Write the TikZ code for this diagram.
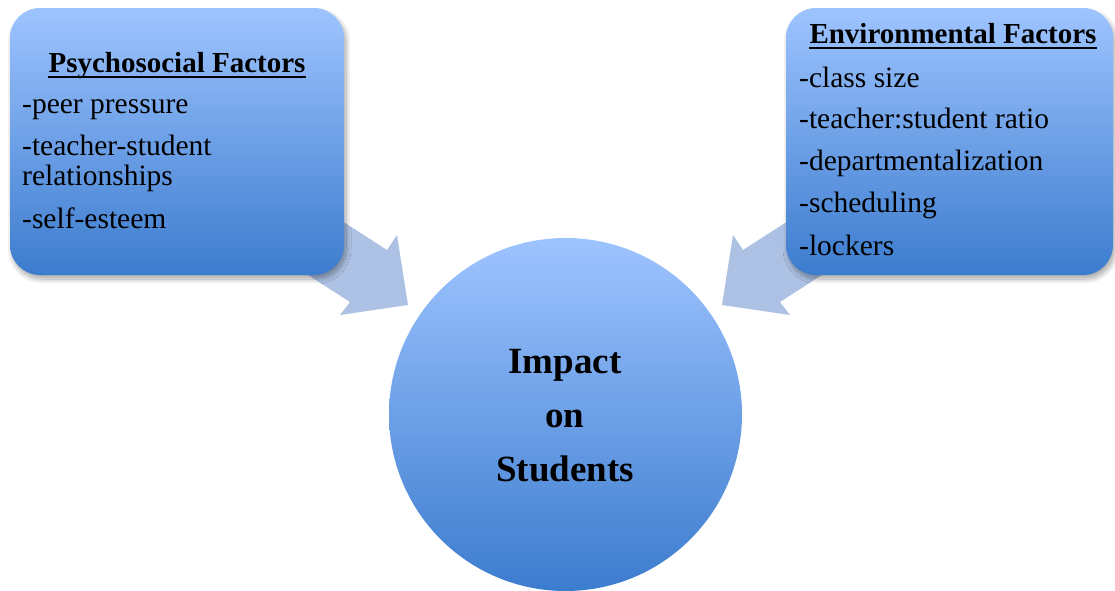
\documentclass[tikz,border=0pt]{standalone}
\usepackage{fontspec}
\setmainfont{Liberation Serif}
\usetikzlibrary{shadows.blur}

\definecolor{boxtop}{RGB}{158,196,255}
\definecolor{boxbot}{RGB}{60,124,206}
\definecolor{arrowfill}{RGB}{168,190,226}

\begin{document}
\begin{tikzpicture}[x=1pt,y=-1pt,
  softshadow/.style={blur shadow={shadow xshift=2pt, shadow yshift=-4pt,
      shadow blur radius=5pt, shadow blur steps=10, shadow opacity=35}},
  factorbox/.style={rounded corners=30pt, top color=boxtop, bottom color=boxbot,
      draw=none, inner sep=0pt, softshadow},
  hubcircle/.style={circle, top color=boxtop, bottom color=boxbot,
      draw=none, inner sep=0pt, minimum size=353pt},
  blockarrow/.style={fill=arrowfill, draw=none, opacity=0.95},
  titletext/.style={font=\bfseries\fontsize{29}{32}\selectfont, inner sep=0pt, anchor=base},
  headrule/.style={line width=2.4pt},
  itemtext/.style={font=\fontsize{29.5}{31}\selectfont, inner sep=0pt, anchor=base west},
  hubtext/.style={font=\bfseries\fontsize{37}{54}\selectfont, align=center, inner sep=0pt}
]
\useasboundingbox (0,0) rectangle (1115,590);

% block arrows pointing from the factor boxes into the hub
\path[blockarrow] (286,185) -- (387,250) -- (397,235) -- (408,305)
  -- (340,315) -- (350,302) -- (249,237) -- cycle;
\path[blockarrow] (844,185) -- (743,250) -- (733,235) -- (722,305)
  -- (790,315) -- (780,302) -- (881,237) -- cycle;

% factor boxes
\node[factorbox, minimum width=334pt, minimum height=267pt] (psy) at (177,141.5) {};
\node[factorbox, minimum width=327pt, minimum height=267pt] (env) at (949.5,141.5) {};

% hub
\node[hubcircle] (hub) at (565.5,414.5) {};
\node[hubtext] (hubtxt) at (565,416) {Impact\\on\\Students};

% psychosocial factors
\node[titletext] (psyhead) at (177,72) {Psychosocial Factors};
\draw[headrule] ([yshift=-5pt]psyhead.base west) -- ([yshift=-5pt]psyhead.base east);
\node[itemtext] (psy1) at (22,113) {-peer pressure};
\node[itemtext] (psy2) at (22,155) {-teacher-student};
\node[itemtext] (psy2b) at (22,185) {relationships};
\node[itemtext] (psy3) at (22,228) {-self-esteem};

% environmental factors
\node[titletext] (envhead) at (953,43) {Environmental Factors};
\draw[headrule] ([yshift=-5pt]envhead.base west) -- ([yshift=-5pt]envhead.base east);
\node[itemtext] (env1) at (799,87) {-class size};
\node[itemtext] (env2) at (799,128) {-teacher:student ratio};
\node[itemtext] (env3) at (799,170) {-departmentalization};
\node[itemtext] (env4) at (799,212) {-scheduling};
\node[itemtext] (env5) at (799,255) {-lockers};
\end{tikzpicture}
\end{document}
